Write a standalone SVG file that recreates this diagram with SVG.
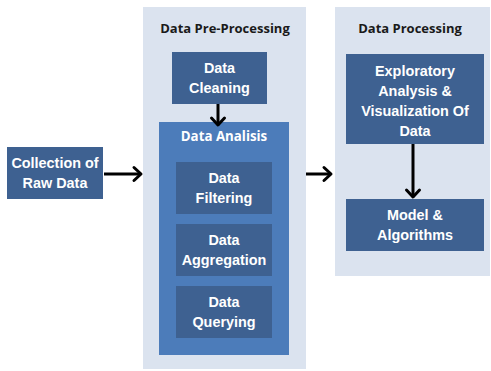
<svg xmlns="http://www.w3.org/2000/svg" width="491" height="371" viewBox="0 0 491 371">
<style>
.panel{fill:#dbe3ef}
.box{fill:#3e6191}
.abox{fill:#4c7cba}
.t{font-family:"Liberation Sans",Arial,sans-serif;font-weight:bold;font-size:14.4px;fill:#ffffff;text-anchor:middle}
.h{font-family:"Open Sans","Liberation Sans",sans-serif;font-weight:bold;font-size:13px;fill:#1a1a1a;text-anchor:middle}
.ah{font-family:"Open Sans","Liberation Sans",sans-serif;font-weight:bold;font-size:13.3px;fill:#ffffff;text-anchor:middle}
.ln{stroke:#000;stroke-width:3;fill:none}
.hd{stroke:#000;stroke-width:3;fill:none;stroke-linecap:round;stroke-linejoin:round}
</style>
<rect width="491" height="371" fill="#ffffff"/>
<g id="preprocessing">
<rect class="panel" x="143" y="7" width="163" height="362"/>
<text class="h" x="225" y="33">Data Pre-Processing</text>
</g>
<g id="processing">
<rect class="panel" x="335" y="7" width="155" height="269"/>
<text class="h" x="410" y="33">Data Processing</text>
</g>
<g id="collection">
<rect class="box" x="7" y="147" width="96" height="52"/>
<text class="t" x="55" y="168">Collection of</text>
<text class="t" x="55" y="188">Raw Data</text>
</g>
<g id="cleaning">
<rect class="box" x="172" y="52" width="95" height="52"/>
<text class="t" x="219.5" y="73">Data</text>
<text class="t" x="219.5" y="93">Cleaning</text>
</g>
<g id="analisis">
<rect class="abox" x="159" y="122" width="130" height="233"/>
<text class="ah" x="224" y="141">Data Analisis</text>
</g>
<g id="filtering">
<rect class="box" x="176" y="162" width="96" height="52"/>
<text class="t" x="224" y="183">Data</text>
<text class="t" x="224" y="203">Filtering</text>
</g>
<g id="aggregation">
<rect class="box" x="176" y="224" width="96" height="52"/>
<text class="t" x="224" y="245">Data</text>
<text class="t" x="224" y="265">Aggregation</text>
</g>
<g id="querying">
<rect class="box" x="176" y="286" width="96" height="52"/>
<text class="t" x="224" y="307">Data</text>
<text class="t" x="224" y="327">Querying</text>
</g>
<g id="eda">
<rect class="box" x="346" y="54" width="138" height="90"/>
<text class="t" x="415" y="76">Exploratory</text>
<text class="t" x="415" y="96">Analysis &amp;</text>
<text class="t" x="415" y="116">Visualization Of</text>
<text class="t" x="415" y="136">Data</text>
</g>
<g id="model">
<rect class="box" x="346" y="199" width="138" height="52"/>
<text class="t" x="415" y="220">Model &amp;</text>
<text class="t" x="415" y="240">Algorithms</text>
</g>
<g id="connectors">
<line class="ln" x1="104" y1="174" x2="141" y2="174"/>
<path class="hd" d="M134,167.5 L141,174 L134,180.5"/>
<line class="ln" x1="306" y1="174" x2="331" y2="174"/>
<path class="hd" d="M324,167.5 L331,174 L324,180.5"/>
<line class="ln" x1="218" y1="104" x2="218" y2="125"/>
<path class="hd" d="M211.5,118 L218,125 L224.5,118"/>
<line class="ln" x1="413" y1="144" x2="413" y2="197"/>
<path class="hd" d="M406.5,190 L413,197 L419.5,190"/>
</g>
</svg>
